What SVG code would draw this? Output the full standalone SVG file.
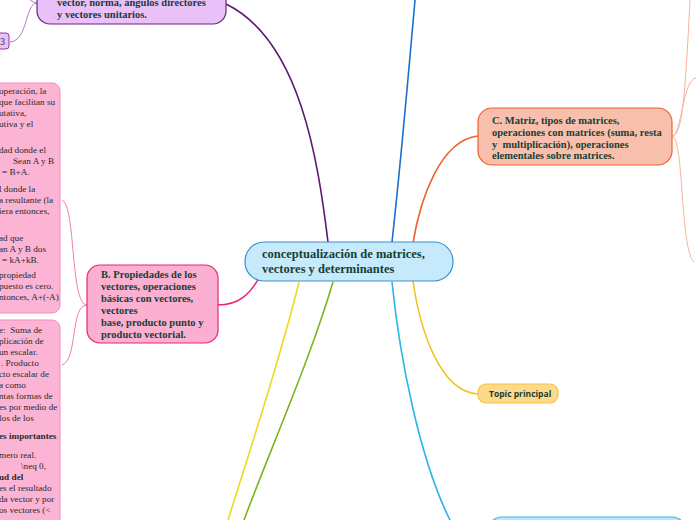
<svg xmlns="http://www.w3.org/2000/svg" width="696" height="520" viewBox="0 0 696 520">
<style>
.nt{font-family:"Liberation Serif","Times New Roman",serif;font-weight:bold;fill:#163f33;}
.lt{font-family:"Liberation Serif","Times New Roman",serif;font-size:9.2px;fill:#2a2a2a;}
.ltb{font-weight:bold;}
.c{fill:none;stroke-width:1.6;}
.t{fill:none;stroke-width:1;}
</style>
<rect width="696" height="520" fill="#ffffff"/>
<g id="connectors">
<path class="c" stroke="#5b1a72" d="M328,242 C318,160 300,40 226,4"/>
<path class="c" stroke="#1a6fd0" d="M392,242 C400,170 408,80 415,0"/>
<path class="c" stroke="#f0602e" d="M413,243 C420,200 440,140 478,136"/>
<path class="c" stroke="#e8237a" d="M260,276 C250,295 238,305 218,305"/>
<path class="c" stroke="#f3c320" d="M413,281 C420,330 440,392 478,394"/>
<path class="c" stroke="#2bb3e8" d="M392,282 C400,360 420,460 450,520"/>
<path class="c" stroke="#f0d820" d="M299,282 C280,360 250,450 228,520"/>
<path class="c" stroke="#7fb320" d="M333,282 C310,360 270,450 244,520"/>
<path class="t" stroke="#f6b39b" d="M672,136 C682,136 685,100 690,0"/>
<path class="t" stroke="#f6b39b" d="M672,136 C682,136 682,80 696,78"/>
<path class="t" stroke="#f6b39b" d="M672,136 C684,136 680,250 694,262"/>
<path class="t" stroke="#f07ab5" d="M87,305 C70,305 76,205 62,200"/>
<path class="t" stroke="#f07ab5" d="M87,305 C70,305 78,360 62,365"/>
<path class="t" stroke="#b27ac6" d="M37,3 C25,3 28,41 10,42"/>
<path class="t" stroke="#b27ac6" d="M37,3 C32,2 30,0 26,-4"/>
</g>
<g id="node-left-1">
<rect x="-40" y="83" width="100" height="230" rx="8" fill="#fcb4d4" stroke="#f28cbd" stroke-width="1"/>
<text class="lt" x="-1" y="94">operación, la</text>
<text class="lt" x="-1" y="105">que facilitan su</text>
<text class="lt" x="-1" y="116">utativa,</text>
<text class="lt" x="-1" y="127">utiva y el</text>
<text class="lt" x="-1" y="153">dad donde el</text>
<text class="lt" x="13" y="164">Sean A y B</text>
<text class="lt" x="2" y="175">= B+A.</text>
<text class="lt" x="-1" y="192">l donde la</text>
<text class="lt" x="-1" y="203">a resultante (la</text>
<text class="lt" x="-1" y="214">iera entonces,</text>
<text class="lt" x="-1" y="241">ad que</text>
<text class="lt" x="-1" y="252">an A y B dos</text>
<text class="lt" x="2" y="263">= kA+kB.</text>
<text class="lt" x="-1" y="278">propiedad</text>
<text class="lt" x="-1" y="289">puesto es cero.</text>
<text class="lt" x="-1" y="300">ntonces, A+(-A)</text>
</g>
<g id="node-left-2">
<rect x="-40" y="320" width="100" height="230" rx="8" fill="#fcb4d4" stroke="#f28cbd" stroke-width="1"/>
<text class="lt" x="-1" y="333">e:&#160; Suma de</text>
<text class="lt" x="-1" y="344">plicación de</text>
<text class="lt" x="-1" y="355">un escalar.</text>
<text class="lt" x="1" y="366">. Producto</text>
<text class="lt" x="-1" y="377">cto escalar de</text>
<text class="lt" x="-1" y="388">a como</text>
<text class="lt" x="-1" y="399">ntas formas de</text>
<text class="lt" x="-1" y="410">es por medio de</text>
<text class="lt" x="-1" y="421">los de los</text>
<text class="lt ltb" x="-1" y="439">es importantes</text>
<text class="lt" x="-1" y="458">mero real.</text>
<text class="lt" x="21" y="469">\neq 0,</text>
<text class="lt ltb" x="-1" y="480">ud del</text>
<text class="lt" x="-1" y="491">es el resultado</text>
<text class="lt" x="-1" y="502">da vector y por</text>
<text class="lt" x="-1" y="513">os vectores (&lt;</text>
</g>
<g id="node-3">
<rect x="-10" y="33" width="19" height="16" rx="3" fill="#e9c0f8" stroke="#8a3a9e" stroke-width="1"/>
<text x="0" y="45" font-family="Liberation Serif, serif" font-size="10" fill="#163f33">3</text>
</g>
<g id="node-a">
<rect x="37" y="-30" width="189" height="54" rx="13" fill="#e9c0f8" stroke="#6e2384" stroke-width="1.2"/>
<text class="nt" x="57" y="6" font-size="10.5">vector, norma, ángulos directores</text>
<text class="nt" x="57" y="18" font-size="10.5">y vectores unitarios.</text>
</g>
<g id="node-center">
<rect x="245" y="242" width="208" height="39" rx="19" fill="#c6eafb" stroke="#3a8fd0" stroke-width="1.2"/>
<text class="nt" x="262" y="258" font-size="12.5">conceptualización de matrices,</text>
<text class="nt" x="262" y="273" font-size="12.5">vectores y determinantes</text>
</g>
<g id="node-b">
<rect x="87" y="265" width="131" height="78" rx="13" fill="#fbb0d2" stroke="#e8237a" stroke-width="1.2"/>
<text class="nt" x="101" y="278" font-size="10.5">B. Propiedades de los</text>
<text class="nt" x="101" y="290" font-size="10.5">vectores, operaciones</text>
<text class="nt" x="101" y="302" font-size="10.5">básicas con vectores,</text>
<text class="nt" x="101" y="314" font-size="10.5">vectores</text>
<text class="nt" x="101" y="326" font-size="10.5">base, producto punto y</text>
<text class="nt" x="101" y="338" font-size="10.5">producto vectorial.</text>
</g>
<g id="node-c">
<rect x="478" y="108" width="194" height="57" rx="14" fill="#f9bfad" stroke="#f0602e" stroke-width="1.2"/>
<text class="nt" x="492" y="124" font-size="10.5">C. Matriz, tipos de matrices,</text>
<text class="nt" x="492" y="136" font-size="10.5">operaciones con matrices (suma, resta</text>
<text class="nt" x="492" y="148" font-size="10.5">y&#160; multiplicación), operaciones</text>
<text class="nt" x="492" y="159" font-size="10.5">elementales sobre matrices.</text>
</g>
<g id="node-topic">
<rect x="478" y="384" width="80" height="19" rx="8" fill="#ffd98a" stroke="#f5c242" stroke-width="1.2"/>
<text x="489" y="397" font-family="Open Sans, Liberation Sans, sans-serif" font-size="8.5" font-weight="bold" fill="#163f33">Topic principal</text>
</g>
<g id="node-bottom">
<rect x="488" y="517" width="198" height="40" rx="14" fill="#b9e7fb" stroke="#3cb4e6" stroke-width="1.2"/>
</g>
</svg>
